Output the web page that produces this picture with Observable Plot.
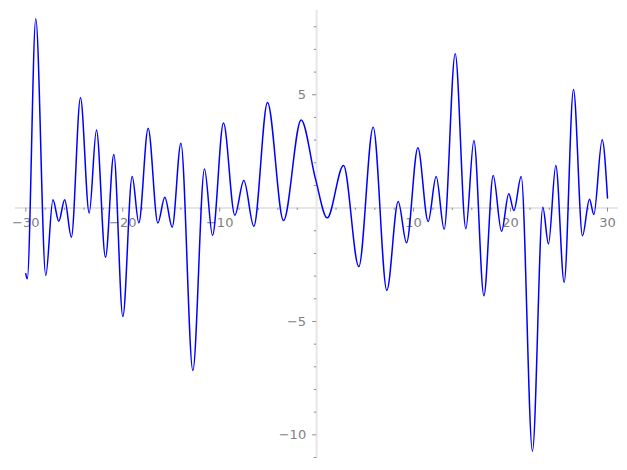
<!DOCTYPE html>
<html>
<head>
<meta charset="utf-8">
<script src="https://cdn.jsdelivr.net/npm/d3@7"></script>
<script src="https://cdn.jsdelivr.net/npm/@observablehq/plot@0.6"></script>
<style>
  html, body { margin: 0; padding: 0; background: #fff; }
  #chart svg { display: block; overflow: visible; }
</style>
</head>
<body>
<div id="chart"></div>
<script>
// Curve samples (local extrema and a few shape points)
const xs = [-30, -29.85, -28.97, -27.94, -27.2, -26.6, -25.99, -25.3, -24.36, -23.46, -22.71, -21.78, -20.92,
  -19.99, -19.03, -18.34, -17.38, -16.38, -15.66, -14.9, -14.0, -12.77, -11.57, -10.74,
  -9.61, -8.44, -7.51, -6.48, -5.07, -3.42, -1.6, -0.12,
  1.09, 2.77, 4.35, 5.83, 7.24, 8.41, 9.27,
  10.44, 11.5, 12.33, 13.15, 14.29, 15.39, 16.22, 17.25, 18.21, 19.07, 19.82,
  20.34, 21.1, 22.26, 23.33, 23.91, 24.67, 25.53, 26.49, 27.42, 28.14, 28.59, 29.45, 30];
const ys = [-2.9, -3.12, 8.35, -2.97, 0.37, -0.58, 0.37, -1.28, 4.87, -0.22, 3.45, -2.17, 2.36,
  -4.78, 1.39, -0.65, 3.52, -0.66, 0.48, -0.84, 2.86, -7.16, 1.72, -1.2,
  3.75, -0.31, 1.22, -0.8, 4.66, -0.55, 3.89, 1.29,
  -0.43, 1.88, -2.58, 3.57, -3.63, 0.29, -1.53,
  2.66, -0.59, 1.39, -0.93, 6.81, -0.91, 2.98, -3.86, 1.44, -1.02, 0.63,
  -0.11, 1.39, -10.72, 0.04, -1.58, 1.88, -3.27, 5.23, -1.22, 0.39, -0.28, 3.01, 0.45];

// Tick labels and tick positions
const xTickLabels = [-30, -20, -10, 10, 20, 30];
const yTickLabels = [5, -5, -10];
const xMinorTicks = [-28, -26, -24, -22, -18, -16, -14, -12, -8, -6, -4, -2, 2, 4, 6, 8, 12, 14, 16, 18, 22, 24, 26, 28];
const yMinorTicks = [8, 7, 6, 4, 3, 2, 1, -1, -2, -3, -4, -6, -7, -8, -9, -11];

const curve = xs.map((x, i) => ({x, y: ys[i]}));
const fmt = v => (v < 0 ? "\u2212" + Math.abs(v) : String(v));

const axisColor = "#e6e6e6";
const tickColor = "#8c8c8c";
const labelColor = "#808080";

const chart = Plot.plot({
  width: 627,
  height: 470,
  marginTop: 0, marginBottom: 0, marginLeft: 0, marginRight: 0,
  x: {domain: [-30, 30], range: [25.3, 607], axis: null},
  y: {domain: [-11, 8], range: [457.0, 26.24], axis: null},
  style: {fontFamily: "DejaVu Sans", fontSize: "13px", background: "#fff"},
  marks: [
    // axis spines through the origin
    Plot.ruleY([0], {x1: -31.06, x2: 31.13, stroke: axisColor, strokeWidth: 2}),
    Plot.ruleX([0], {y1: -11.05, y2: 8.72, stroke: axisColor, strokeWidth: 2}),
    // x ticks (below the horizontal axis)
    Plot.ruleX(xTickLabels, {x: d => d, y1: 0, y2: 0, insetTop: 0, insetBottom: -4, stroke: tickColor, strokeWidth: 1}),
    Plot.ruleX(xMinorTicks, {x: d => d, y1: 0, y2: 0, insetTop: 0, insetBottom: -2.3, stroke: tickColor, strokeWidth: 1}),
    // y ticks (left of the vertical axis)
    Plot.ruleY(yTickLabels, {y: d => d, x1: 0, x2: 0, insetLeft: -4, insetRight: 0, stroke: tickColor, strokeWidth: 1}),
    Plot.ruleY(yMinorTicks, {y: d => d, x1: 0, x2: 0, insetLeft: -2.3, insetRight: 0, stroke: tickColor, strokeWidth: 1}),
    // tick labels
    Plot.text(xTickLabels, {x: d => d, y: 0, text: fmt, dy: 15, lineAnchor: "middle", textAnchor: "middle", fill: labelColor}),
    Plot.text(yTickLabels, {x: 0, y: d => d, text: fmt, dx: -10.5, lineAnchor: "middle", textAnchor: "end", fill: labelColor}),
    // the curve
    Plot.line(curve, {x: "x", y: "y", stroke: "#0000ff", strokeWidth: 1.5, curve: "monotone-x"})
  ]
});
document.getElementById("chart").append(chart);
</script>
</body>
</html>
